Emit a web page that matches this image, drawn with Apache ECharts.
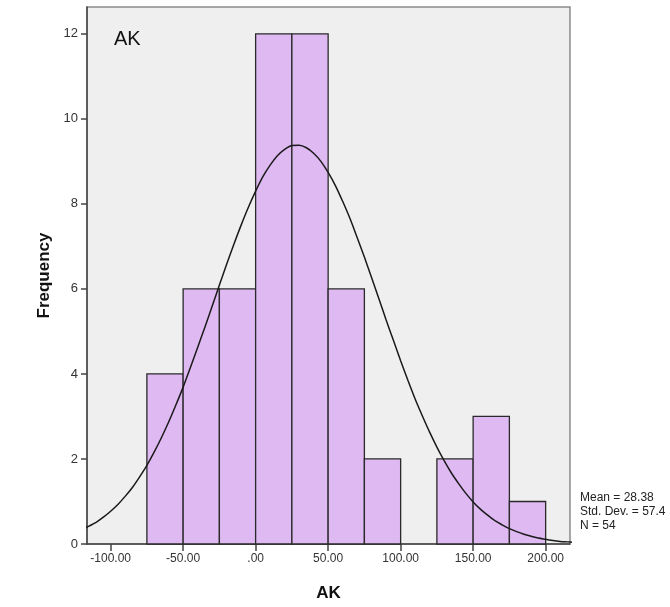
<!DOCTYPE html>
<html>
<head>
<meta charset="utf-8">
<script src="https://cdn.jsdelivr.net/npm/echarts@6/dist/echarts.min.js"></script>
<style>
html,body{margin:0;padding:0;background:#fff;}
#chart{width:670px;height:607px;}
</style>
</head>
<body>
<div id="chart"></div>
<script>
// Histogram bins (AK)
const binStarts = [-75, -50, -25, 0, 25, 50, 75, 100, 125, 150, 175];
const binEnds   = [-50, -25, 0, 25, 50, 75, 100, 125, 150, 175, 200];
const counts    = [4, 6, 6, 12, 12, 6, 2, 0, 2, 3, 1];

// Normal curve
const curveX = [-120,-115,-110,-105,-100,-95,-90,-85,-80,-75,-70,-65,-60,-55,-50,-45,-40,-35,-30,-25,-20,-15,-10,-5,0,5,10,15,20,25,30,35,40,45,50,55,60,65,70,75,80,85,90,95,100,105,110,115,120,125,130,135,140,145,150,155,160,165,170,175,180,185,190,195,200,205,210,215,220];
const curveY = [0.33,0.42,0.51,0.63,0.77,0.93,1.12,1.33,1.58,1.85,2.16,2.50,2.87,3.27,3.69,4.15,4.62,5.10,5.59,6.09,6.58,7.05,7.50,7.92,8.30,8.64,8.91,9.13,9.28,9.37,9.38,9.32,9.19,9.00,8.74,8.43,8.06,7.66,7.21,6.75,6.26,5.77,5.27,4.79,4.31,3.85,3.41,3.01,2.63,2.28,1.96,1.67,1.42,1.19,0.99,0.82,0.68,0.55,0.45,0.36,0.29,0.23,0.18,0.14,0.11,0.08,0.06,0.05,0.04];

const xTicks = [-100, -50, 0, 50, 100, 150, 200];
const yTicks = [0, 2, 4, 6, 8, 10, 12];
const statsLines = ['Mean = 28.38', 'Std. Dev. = 57.4', 'N = 54'];

const FONT = 'Liberation Sans, Arial, sans-serif';

const binData = [];
for (let i = 0; i < counts.length; i++) {
  if (counts[i] > 0) binData.push([binStarts[i], binEnds[i], counts[i]]);
}
const curveData = curveX.map((x, i) => [x, curveY[i]]);

const chart = echarts.init(document.getElementById('chart'), null, {renderer: 'canvas'});
chart.setOption({
  animation: false,
  backgroundColor: '#ffffff',
  title: {
    text: 'AK',
    left: 109, top: 24,
    textStyle: {fontFamily: FONT, fontSize: 20, fontWeight: 'normal', color: '#111'}
  },
  grid: {
    left: 87, top: 7, right: 100, bottom: 63,
    show: true, backgroundColor: '#efefef', borderColor: '#8a8a8a', borderWidth: 1.5
  },
  xAxis: {
    type: 'value', min: -116.3, max: 216.8,
    name: 'AK', nameLocation: 'middle', nameGap: 41,
    nameTextStyle: {fontFamily: FONT, fontSize: 17, fontWeight: 'bold', color: '#111'},
    axisLine: {show: true, onZero: false, lineStyle: {color: '#444', width: 1.5}},
    axisTick: {show: true, length: 7, customValues: xTicks, lineStyle: {color: '#444', width: 1.5}},
    axisLabel: {
      customValues: xTicks, margin: 9,
      fontFamily: FONT, fontSize: 12, color: '#333',
      formatter: v => v === 0 ? '.00' : v.toFixed(2)
    },
    splitLine: {show: false}
  },
  yAxis: {
    type: 'value', min: 0, max: 12.63,
    name: 'Frequency', nameLocation: 'middle', nameGap: 32, nameRotate: 90,
    nameTextStyle: {fontFamily: FONT, fontSize: 17, fontWeight: 'bold', color: '#111'},
    axisLine: {show: true, onZero: false, lineStyle: {color: '#444', width: 1.5}},
    axisTick: {show: true, length: 6, customValues: yTicks, lineStyle: {color: '#444', width: 1.5}},
    axisLabel: {customValues: yTicks, margin: 9, fontFamily: FONT, fontSize: 13, color: '#333'},
    splitLine: {show: false}
  },
  graphic: [{
    type: 'text', left: 580, top: 491,
    style: {text: statsLines.join('\n'), font: '12px ' + FONT, fill: '#222', lineHeight: 14}
  }],
  series: [
    {
      type: 'custom',
      data: binData,
      encode: {x: [0, 1], y: 2},
      renderItem: function (params, api) {
        const p0 = api.coord([api.value(0), api.value(2)]);
        const p1 = api.coord([api.value(1), 0]);
        return {
          type: 'rect',
          shape: {x: p0[0], y: p0[1], width: p1[0] - p0[0], height: p1[1] - p0[1]},
          style: {fill: '#dfb9f2', stroke: '#2a2a2a', lineWidth: 1.3}
        };
      },
      z: 2
    },
    {
      type: 'line',
      data: curveData,
      smooth: 0.3,
      symbol: 'none',
      clip: true,
      lineStyle: {color: '#1a1a1a', width: 1.5},
      z: 3
    }
  ]
});
</script>
</body>
</html>
